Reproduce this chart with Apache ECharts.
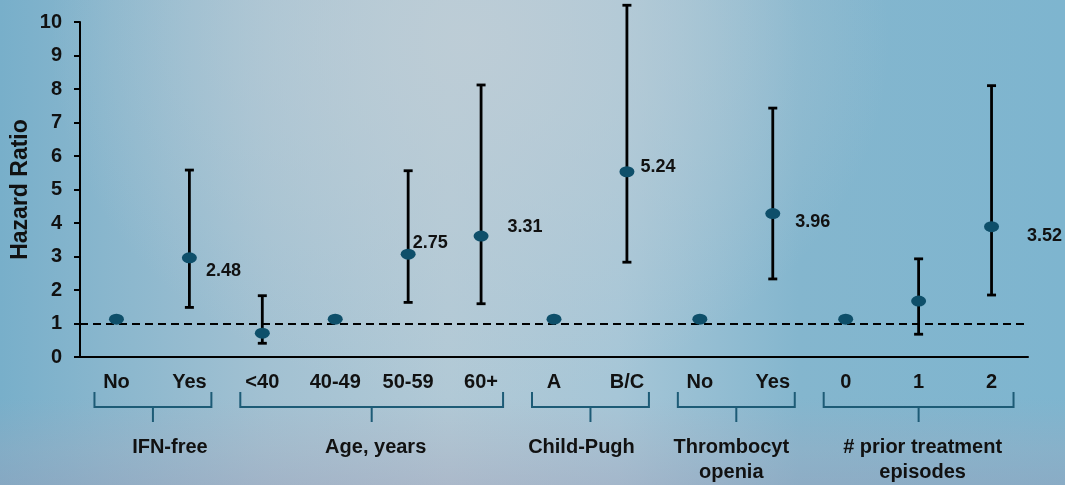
<!DOCTYPE html>
<html>
<head>
<meta charset="utf-8">
<script src="https://cdn.jsdelivr.net/npm/echarts@6/dist/echarts.min.js"></script>
<style>
  html, body { margin: 0; padding: 0; }
  body {
    width: 1065px; height: 485px; overflow: hidden;
    background:
      linear-gradient(to bottom, rgba(150,190,205,0) 0%, rgba(150,190,205,0) 82%, rgba(165,165,185,0.25) 93%, rgba(160,155,180,0.35) 100%),
      radial-gradient(ellipse 420px 360px at 470px 40px, rgba(190,205,214,0.9) 0%, rgba(190,205,214,0) 100%),
      linear-gradient(to right, #78afca 0%, #a2c1d2 25%, #b1c9d6 42%, #a6c6d7 58%, #84b6ce 75%, #7eb5cf 100%);
  }
  #main { width: 1065px; height: 485px; }
</style>
</head>
<body>
<div id="main"></div>
<script>
// categories along the x axis
const categories = ['No', 'Yes', '<40', '40-49', '50-59', '60+', 'A', 'B/C', 'No ', 'Yes ', '0', '1', '2'];
// hazard ratio point estimates
const hazard = [1.13, 2.96, 0.71, 1.13, 3.07, 3.61, 1.13, 5.53, 1.13, 4.28, 1.13, 1.67, 3.89];
// confidence interval ends (null = reference group)
const ciLow  = [null, 1.48, 0.41, null, 1.63, 1.59, null, 2.83, null, 2.33, null, 0.68, 1.85];
const ciHigh = [null, 5.58, 1.83, null, 5.56, 8.12, null, 10.5, null, 7.43, null, 2.93, 8.10];
// printed values next to the points
const hrText = [null, '2.48', null, null, '2.75', '3.31', null, '5.24', null, '3.96', null, null, '3.52'];
// groups under the axis: name, first and last category index
const groupNames = ['IFN-free', 'Age, years', 'Child-Pugh', 'Thrombocyt\nopenia', '# prior treatment\nepisodes'];
const groupStart = [0, 2, 6, 8, 10];
const groupEnd   = [1, 5, 7, 9, 12];
const yTicks = [0, 10, 1]; // min, max, interval

// label placement (styling only)
const labelOffsets = [null, [9, 13], null, null, [-3, -11], [19, -9], null, [6, -5], null, [15, 8], null, null, [28, 9]];
const groupTextShift = [17, 4, -9, -5, 4];

const font = 'Arial, "Liberation Sans", sans-serif';
const dark = '#0e4f6a';

const errData = [];
hazard.forEach((v, i) => {
  if (ciLow[i] != null) errData.push([i, ciLow[i], ciHigh[i]]);
});

const pointData = hazard.map((v, i) => {
  const item = { value: [i, v] };
  if (hrText[i]) {
    item.label = {
      show: true, formatter: hrText[i], position: 'right',
      offset: labelOffsets[i], distance: 0,
      color: '#111', fontWeight: 'bold', fontSize: 18, fontFamily: font
    };
  }
  return item;
});

const groupData = groupNames.map((n, i) => [groupStart[i], groupEnd[i], i]);

const option = {
  animation: false,
  grid: { left: 80, right: 37, top: 22, bottom: 128, containLabel: false, outerBoundsMode: 'none' },
  xAxis: {
    type: 'category',
    data: categories,
    boundaryGap: true,
    axisLine: { lineStyle: { color: '#000', width: 2 } },
    axisTick: { alignWithLabel: true, length: 5, lineStyle: { color: '#000', width: 2 } },
    axisLabel: {
      color: '#111', fontWeight: 'bold', fontSize: 20, fontFamily: font, margin: 15,
      formatter: v => v.trim()
    },
    splitLine: { show: false }
  },
  yAxis: {
    type: 'value',
    min: yTicks[0], max: yTicks[1], interval: yTicks[2],
    name: 'Hazard Ratio',
    nameLocation: 'middle',
    nameGap: 48,
    nameMoveOverlap: false,
    nameTextStyle: { color: '#111', fontWeight: 'bold', fontSize: 23, fontFamily: font },
    axisLine: { show: true, lineStyle: { color: '#000', width: 2 } },
    axisTick: { show: true, length: 6, lineStyle: { color: '#000', width: 2 } },
    axisLabel: { color: '#111', fontWeight: 'bold', fontSize: 20, fontFamily: font, margin: 18 },
    splitLine: { show: false }
  },
  series: [
    {
      type: 'custom',
      data: errData,
      clip: false,
      z: 3,
      renderItem: (params, api) => {
        const lo = api.coord([api.value(0), api.value(1)]);
        const hi = api.coord([api.value(0), api.value(2)]);
        const w = 4.5;
        const st = { stroke: '#000', lineWidth: 2.8 };
        return {
          type: 'group',
          children: [
            { type: 'line', shape: { x1: lo[0], y1: lo[1], x2: hi[0], y2: hi[1] }, style: st },
            { type: 'line', shape: { x1: lo[0] - w, y1: lo[1], x2: lo[0] + w, y2: lo[1] }, style: st },
            { type: 'line', shape: { x1: hi[0] - w, y1: hi[1], x2: hi[0] + w, y2: hi[1] }, style: st }
          ]
        };
      }
    },
    {
      type: 'scatter',
      data: pointData,
      symbol: 'circle',
      symbolSize: [15, 11],
      itemStyle: { color: dark, opacity: 1 },
      z: 5,
      markLine: {
        silent: true,
        symbol: 'none',
        label: { show: false },
        lineStyle: { color: '#000', type: [8, 5], width: 1.8 },
        data: [{ yAxis: 1 }]
      }
    },
    {
      type: 'custom',
      data: groupData,
      clip: false,
      silent: true,
      renderItem: (params, api) => {
        const a = api.coord([api.value(0), 0]);
        const b = api.coord([api.value(1), 0]);
        const x1 = a[0] - 22, x2 = b[0] + 22, mid = (a[0] + b[0]) / 2;
        const y0 = a[1];
        const gi = api.value(2);
        const st = { stroke: '#1d5b76', lineWidth: 2, fill: 'none' };
        return {
          type: 'group',
          children: [
            { type: 'polyline', shape: { points: [[x1, y0 + 35], [x1, y0 + 50], [x2, y0 + 50], [x2, y0 + 35]] }, style: st },
            { type: 'line', shape: { x1: mid, y1: y0 + 50, x2: mid, y2: y0 + 65 }, style: st },
            {
              type: 'text',
              x: mid + groupTextShift[gi], y: y0 + 78,
              style: {
                text: groupNames[gi], textAlign: 'center', textVerticalAlign: 'top',
                fill: '#111', font: 'bold 20px ' + font, lineHeight: 25
              }
            }
          ]
        };
      }
    }
  ]
};

const myChart = echarts.init(document.getElementById('main'));
myChart.setOption(option);
</script>
</body>
</html>
